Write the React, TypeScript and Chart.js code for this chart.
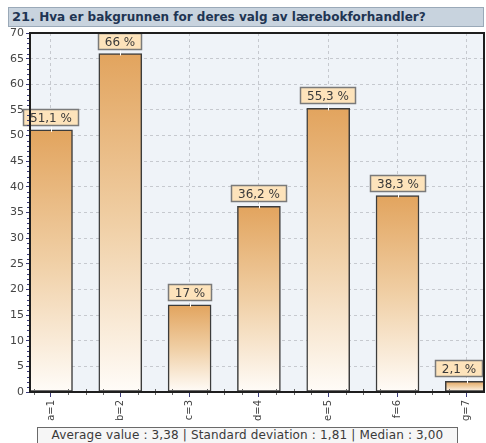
import React, { useEffect, useRef } from "react";
import { Chart, registerables } from "chart.js";

Chart.register(...registerables);

const categories = ["a=1", "b=2", "c=3", "d=4", "e=5", "f=6", "g=7"];
const percentages = [51.1, 66, 17, 36.2, 55.3, 38.3, 2.1];
const yTickValues = [0, 5, 10, 15, 20, 25, 30, 35, 40, 45, 50, 55, 60, 65, 70];
const titleText = "Hva er bakgrunnen for deres valg av lærebokforhandler?";
const questionNo = "21.";
const summaryText = "Average value : 3,38 | Standard deviation : 1,81 | Median : 3,00";

const W = 486;
const H = 443;
const FONT = "'DejaVu Sans', Verdana, sans-serif";

const formatPct = (v: number) => String(v).replace(".", ",") + " %";

// plot background, frame, minor ticks and value callouts
const decorPlugin = {
  id: "decor",
  beforeDraw(chart: any) {
    const { ctx, chartArea: a } = chart;
    ctx.save();
    ctx.fillStyle = "#eff3f8";
    ctx.fillRect(a.left, a.top, a.right - a.left, a.bottom - a.top);
    ctx.restore();
  },
  afterDraw(chart: any) {
    const { ctx, chartArea: a, scales } = chart;
    const y = scales.y;
    const x = scales.x;
    ctx.save();
    // minor y ticks
    ctx.strokeStyle = "#3a3a7a";
    ctx.lineWidth = 1;
    for (let v = 0; v <= 70; v++) {
      if (v % 5 === 0) continue;
      const py = Math.round(y.getPixelForValue(v)) + 0.5;
      ctx.beginPath();
      ctx.moveTo(a.left - 3, py);
      ctx.lineTo(a.left, py);
      ctx.stroke();
    }
    // minor x ticks
    ctx.strokeStyle = "#666";
    for (let i = 0; i <= categories.length; i++) {
      for (const f of [0.25, 0.5, 0.75]) {
        const v = i + f;
        const px = Math.round(x.getPixelForValue(v)) + 0.5;
        if (px < a.left || px > a.right) continue;
        ctx.beginPath();
        ctx.moveTo(px, a.bottom - 3);
        ctx.lineTo(px, a.bottom + 3);
        ctx.stroke();
      }
    }
    // frame
    ctx.strokeStyle = "#1e1e1e";
    ctx.lineWidth = 2;
    ctx.strokeRect(a.left, a.top, a.right - a.left, a.bottom - a.top);
    ctx.restore();
  },
  afterDatasetsDraw(chart: any) {
    const { ctx, chartArea: a } = chart;
    const meta = chart.getDatasetMeta(0);
    ctx.save();
    ctx.font = `12px ${FONT}`;
    ctx.textAlign = "center";
    ctx.textBaseline = "middle";
    meta.data.forEach((bar: any, i: number) => {
      const label = formatPct(percentages[i]);
      const tw = ctx.measureText(label).width;
      const bw = Math.round(tw + 14);
      const bh = 17;
      let left = Math.round(bar.x - bw / 2);
      if (left + bw > a.right - 1) left = a.right - 1 - bw;
      const top = Math.round(bar.y - 4 - bh);
      // connector
      ctx.strokeStyle = "#ffffff";
      ctx.lineWidth = 1;
      ctx.beginPath();
      ctx.moveTo(Math.round(bar.x) + 0.5, top + bh);
      ctx.lineTo(Math.round(bar.x) + 0.5, bar.y + 2);
      ctx.stroke();
      ctx.fillStyle = "#fde3bb";
      ctx.fillRect(left, top, bw, bh);
      ctx.strokeStyle = "#7a7a7a";
      ctx.lineWidth = 1.5;
      ctx.strokeRect(left + 0.5, top + 0.5, bw - 1, bh - 1);
      ctx.fillStyle = "#3a3a3a";
      ctx.fillText(label, left + bw / 2, top + bh / 2 + 1);
    });
    ctx.restore();
  },
};

export default function App() {
  const canvasRef = useRef<HTMLCanvasElement | null>(null);

  useEffect(() => {
    document.body.style.margin = "0";
    const canvas = canvasRef.current;
    if (!canvas) return;

    const chart = new Chart(canvas, {
      type: "bar",
      data: {
        datasets: [
          {
            data: percentages.map((v, i) => ({ x: i + 1, y: v })),
            backgroundColor: (c: any) => {
              const ch = c.chart;
              if (!ch.chartArea || c.dataIndex === undefined) return "#e4a862";
              const ys = ch.scales.y;
              const top = ys.getPixelForValue(percentages[c.dataIndex]);
              const bottom = ys.getPixelForValue(0);
              const g = ch.ctx.createLinearGradient(0, top, 0, bottom);
              g.addColorStop(0, "#e2a45e");
              g.addColorStop(0.5, "#f0cfa5");
              g.addColorStop(1, "#fffcf8");
              return g;
            },
            borderColor: "#3c3c3c",
            borderWidth: 1.5,
            borderSkipped: false,
            barThickness: 43,
          },
        ],
      },
      options: {
        responsive: false,
        animation: false,
        devicePixelRatio: 1,
        layout: { padding: { top: 33, right: 2, left: 0, bottom: 0 } },
        plugins: {
          legend: { display: false },
          title: { display: false },
          tooltip: { enabled: false },
        },
        scales: {
          x: {
            type: "linear",
            offset: false,
            min: 0.697,
            max: 7.248,
            afterBuildTicks: (s: any) => {
              s.ticks = categories.map((_, i) => ({ value: i + 1 }));
            },
            afterFit: (s: any) => {
              s.height = 51;
            },
            grid: {
              offset: false,
              color: "#c6c9cf",
              drawTicks: true,
              tickLength: 5,
              tickColor: "#3a3a7a",
            },
            border: { display: false, dash: [3, 3] },
            ticks: {
              autoSkip: false,
              minRotation: 90,
              maxRotation: 90,
              padding: 3,
              color: "#444",
              font: { family: FONT, size: 10 },
              callback: (v: any) => categories[Number(v) - 1] ?? "",
            },
          },
          y: {
            min: 0,
            max: 70,
            afterBuildTicks: (s: any) => {
              s.ticks = yTickValues.map((v) => ({ value: v }));
            },
            afterFit: (s: any) => {
              s.width = 30;
            },
            grid: {
              color: (c: any) => (c.tick && (c.tick.value === 0 || c.tick.value === 70) ? "rgba(0,0,0,0)" : "#c6c9cf"),
              drawTicks: true,
              tickLength: 4,
              tickColor: "#3a3a7a",
            },
            border: { display: false, dash: [3, 3] },
            ticks: {
              padding: 2,
              color: "#444",
              font: { family: FONT, size: 11 },
            },
          },
        },
      },
      plugins: [decorPlugin],
    } as any);

    return () => chart.destroy();
  }, []);

  return (
    <div style={{ position: "relative", width: W, height: H, overflow: "hidden", background: "#fff" }}>
      <canvas ref={canvasRef} width={W} height={H} style={{ position: "absolute", left: 0, top: 0 }} />
      <div
        style={{
          position: "absolute",
          left: 8,
          top: 7,
          width: 476,
          height: 20,
          boxSizing: "border-box",
          background: "#c8d3de",
          border: "1px solid #9aa9b8",
          color: "#1f3553",
          fontFamily: FONT,
          fontWeight: "bold",
          fontSize: 12,
          lineHeight: "18px",
          paddingLeft: 3,
          whiteSpace: "nowrap",
        }}
      >
        <span style={{ fontSize: 13 }}>{questionNo}</span> {titleText}
      </div>
      <div
        style={{
          position: "absolute",
          left: 37,
          top: 427,
          width: 421,
          height: 18,
          boxSizing: "border-box",
          background: "#f6f6f6",
          border: "1px solid #6a6a6a",
          color: "#3a3a3a",
          fontFamily: FONT,
          fontSize: 12,
          letterSpacing: 0.15,
          lineHeight: "15px",
          textAlign: "center",
          whiteSpace: "nowrap",
        }}
      >
        {summaryText}
      </div>
    </div>
  );
}
